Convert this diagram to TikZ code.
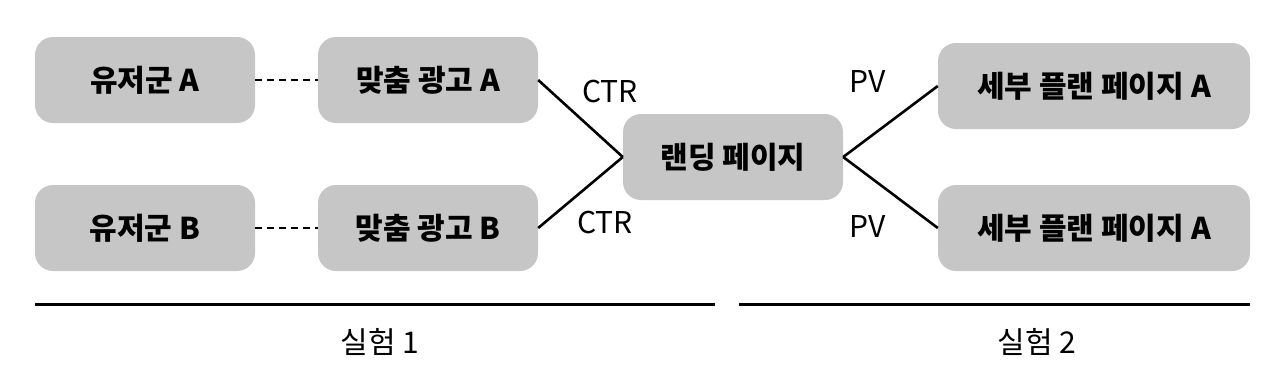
\documentclass[tikz,border=0pt]{standalone}
\usepackage{fontspec}
\setmainfont{Noto Sans CJK KR}
\usetikzlibrary{positioning}
\definecolor{boxgray}{HTML}{C6C6C6}
\tikzset{
    stage/.style={rounded corners=18pt,fill=boxgray,minimum width=220pt,minimum height=86pt,inner sep=0pt,font=\fontsize{30}{34}\selectfont\bfseries},
    widestage/.style={stage,minimum width=312pt},
    link/.style={draw,line width=2.6pt},
    pair/.style={draw,line width=2.4pt,dash pattern=on 7pt off 5pt},
    rule/.style={draw,line width=3pt},
    tag/.style={font=\fontsize{30}{34}\selectfont},
}
\begin{document}
\begin{tikzpicture}[x=1pt,y=-1pt]
    \useasboundingbox (0,0) rectangle (1280,378);
    \node[stage] (userA) at (145,80) {유저군 A};
    \node[stage] (adA) at (428,80) {맞춤 광고 A};
    \node[stage] (userB) at (145,228) {유저군 B};
    \node[stage] (adB) at (428,228) {맞춤 광고 B};
    \node[stage] (land) at (733,157) {랜딩 페이지};
    \node[widestage] (planA) at (1094,86) {세부 플랜 페이지 A};
    \node[widestage] (planB) at (1094,228) {세부 플랜 페이지 A};

    \node[tag] (ctrA) at (610,92) {CTR};
    \node[tag] (ctrB) at (605,222) {CTR};
    \node[tag] (pvA) at (868,82) {PV};
    \node[tag] (pvB) at (868,227) {PV};

    \path
    (userA) edge[pair] (adA)
    (userB) edge[pair] (adB)
    (adA.east) edge[link] (land.west)
    (adB.east) edge[link] (land.west)
    (land.east) edge[link] (planA.west)
    (land.east) edge[link] (planB.west);

    % experiment spans
    \coordinate (exp1l) at (35,304);
    \coordinate (exp1r) at (715,304);
    \coordinate (exp2l) at (739,304);
    \coordinate (exp2r) at (1250,304);
    \draw[rule] (exp1l) -- (exp1r);
    \draw[rule] (exp2l) -- (exp2r);
    \node[tag] (exp1) at (380,342) {실험 1};
    \node[tag] (exp2) at (1037,342) {실험 2};
\end{tikzpicture}
\end{document}
